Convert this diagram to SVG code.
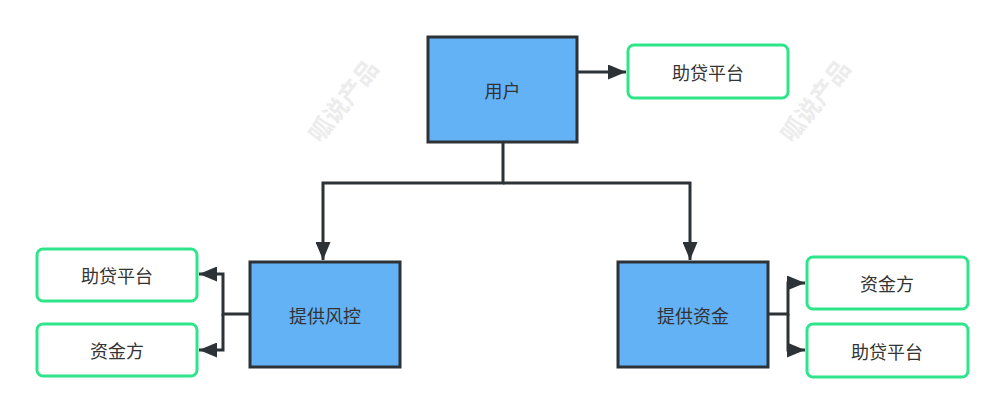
<svg xmlns="http://www.w3.org/2000/svg" width="1005" height="414" viewBox="0 0 1005 414">
<style>
.main{fill:#62b2f5;stroke:#2d3236;stroke-width:3}
.sub{fill:#ffffff;stroke:#2fe58a;stroke-width:3}
.t{font-family:"Noto Sans CJK SC","Liberation Sans",sans-serif;font-size:18px;fill:#333;text-anchor:middle;dominant-baseline:central}
.c{fill:none;stroke:#2d3236;stroke-width:3}
.wm{font-family:"Noto Sans CJK SC",sans-serif;font-size:24px;font-weight:bold;fill:#ececec;text-anchor:middle;dominant-baseline:central}
</style>
<defs>
<marker id="ah" viewBox="0 0 10 10" refX="10" refY="5" markerWidth="6" markerHeight="5" markerUnits="strokeWidth" orient="auto" preserveAspectRatio="none">
<path d="M0,0 L10,5 L0,10 z" fill="#2d3236"/>
</marker>
</defs>
<text class="wm" transform="translate(342,100) rotate(-52)">呱说产品</text>
<text class="wm" transform="translate(814,100) rotate(-52)">呱说产品</text>
<g id="connectors">
<path class="c" d="M577,72 H626" marker-end="url(#ah)"/>
<path class="c" d="M503,142 V183 H323 V260" marker-end="url(#ah)"/>
<path class="c" d="M503,183 H690 V260" marker-end="url(#ah)"/>
<path class="c" d="M250,314 H223 V274 H199" marker-end="url(#ah)"/>
<path class="c" d="M223,314 V350 H199" marker-end="url(#ah)"/>
<path class="c" d="M768,314 H788 V283 H805" marker-end="url(#ah)"/>
<path class="c" d="M788,314 V350 H805" marker-end="url(#ah)"/>
</g>
<g id="user"><rect class="main" x="428" y="37" width="149" height="105"/><text class="t" x="502.5" y="90">用户</text></g>
<g id="platform-top"><rect class="sub" x="628" y="45" width="160" height="53" rx="6"/><text class="t" x="708" y="72">助贷平台</text></g>
<g id="risk"><rect class="main" x="250" y="262" width="150" height="105"/><text class="t" x="325" y="315">提供风控</text></g>
<g id="platform-left"><rect class="sub" x="37" y="249" width="160" height="52" rx="6"/><text class="t" x="117" y="275">助贷平台</text></g>
<g id="funder-left"><rect class="sub" x="37" y="324" width="160" height="52" rx="6"/><text class="t" x="117" y="350">资金方</text></g>
<g id="fund"><rect class="main" x="618" y="262" width="150" height="105"/><text class="t" x="693" y="315">提供资金</text></g>
<g id="funder-right"><rect class="sub" x="807" y="257" width="161" height="52" rx="6"/><text class="t" x="887" y="283">资金方</text></g>
<g id="platform-right"><rect class="sub" x="807" y="324" width="161" height="53" rx="6"/><text class="t" x="887" y="351">助贷平台</text></g>
</svg>
